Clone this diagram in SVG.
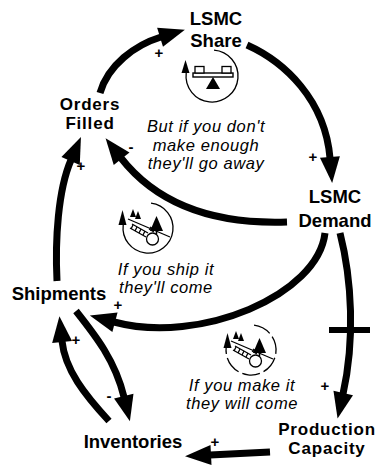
<svg xmlns="http://www.w3.org/2000/svg" width="378" height="465" viewBox="0 0 378 465">
  <style>
    .node{font-family:"Liberation Sans",Arial,Helvetica,sans-serif;font-weight:bold;font-size:18.5px;text-anchor:middle;fill:#000}
    .node.tight{font-size:17px;letter-spacing:0.8px}
    .note{font-family:"Liberation Sans",Arial,Helvetica,sans-serif;font-style:italic;font-size:16.5px;letter-spacing:0.6px;text-anchor:middle;fill:#000}
    .pol{font-family:"Liberation Sans",Arial,Helvetica,sans-serif;font-weight:bold;font-size:15px;text-anchor:middle;fill:#000}
    .link{fill:none;stroke:#000;stroke-width:7;marker-end:url(#head)}
    .thin{fill:none;stroke:#000;stroke-width:1.3}
    .solid{fill:#000;stroke:none}
  </style>
  <defs>
    <!-- large arrowhead; the link path ends at the base of the head -->
    <marker id="head" markerUnits="userSpaceOnUse" viewBox="0 0 26 20" markerWidth="26" markerHeight="20" refX="1" refY="10" orient="auto" overflow="visible">
      <path d="M0,0 L26,10 L0,20 z" fill="#000"/>
    </marker>
    <!-- snowball rolling downhill: reinforcing loop emblem (contents only) -->
    <g id="snowball">
      <polygon class="solid" points="-18,-11 -15,-19 -12,-11"/>
      <polygon class="solid" points="-13,-9 -10,-17 -7,-9"/>
      <polygon class="solid" points="2,3 8.5,-12 15,3"/>
      <line x1="8.5" y1="3" x2="8.5" y2="6" stroke="#000" stroke-width="1.5"/>
      <path class="thin" d="M-20,-9 L22,9"/>
      <path class="thin" d="M-16,-4 L0,5 M-18,0 L-2,9" stroke-width="1.2"/>
      <path class="thin" d="M-15,-3 L-17,1 M-11,-1 L-13,3 M-7,1 L-9,5 M-3,3 L-5,7" stroke-width="1.2"/>
      <path class="thin" d="M1,1 L6,4 M2,-1 L7,2" stroke-width="1"/>
      <circle cx="4.5" cy="11" r="6" fill="#fff" stroke="#000" stroke-width="1.3"/>
    </g>
  </defs>

  <rect width="378" height="465" fill="#fff"/>

  <!-- causal links -->
  <g id="connectors">
    <path class="link" d="M100,93 C108,65 135,45 161,37"/>
    <path class="link" d="M247,45 C285,62 325,100 330,158"/>
    <path class="link" d="M287,222 C200,225 150,195 121,158"/>
    <path class="link" d="M57,281 C55,240 58,190 71,160"/>
    <path class="link" d="M325,233 C318,295 200,345 114,322"/>
    <path class="link" d="M340,233 C352,280 355,340 343,394"/>
    <path class="link" d="M109,421 C85,395 65,370 62,341"/>
    <path class="link" d="M76,311 C95,335 115,360 124,397"/>
    <path class="link" d="M270,452 L210,455"/>
    <!-- delay mark -->
    <line x1="329" y1="330" x2="370" y2="330" stroke="#000" stroke-width="6"/>
    <!-- polarities -->
    <text class="pol" x="159" y="58">+</text>
    <text class="pol" x="313" y="162">+</text>
    <text class="pol" x="131" y="152">-</text>
    <text class="pol" x="81" y="171">+</text>
    <text class="pol" x="118" y="310">+</text>
    <text class="pol" x="76" y="345">+</text>
    <text class="pol" x="109" y="401">-</text>
    <text class="pol" x="325" y="391">+</text>
    <text class="pol" x="215" y="447">+</text>
  </g>

  <!-- variables -->
  <g id="lsmc-share"><text class="node" x="216" y="25">LSMC</text><text class="node" x="216" y="47">Share</text></g>
  <g id="orders-filled"><text class="node tight" x="90" y="109.5">Orders</text><text class="node tight" x="90" y="128.5">Filled</text></g>
  <g id="lsmc-demand"><text class="node" x="335" y="203">LSMC</text><text class="node" x="335" y="227">Demand</text></g>
  <g id="shipments"><text class="node" x="59" y="300">Shipments</text></g>
  <g id="inventories"><text class="node" x="133" y="448">Inventories</text></g>
  <g id="production-capacity"><text class="node tight" x="327" y="434.5">Production</text><text class="node tight" x="327" y="453.5">Capacity</text></g>

  <!-- balancing loop: seesaw emblem -->
  <g id="loop-balance" transform="translate(212,76)">
    <path class="thin" d="M2,-25.9 A26 26 0 1 1 -25.8,-3"/>
    <polygon class="solid" points="-26.5,-16 -30.5,-3 -22.5,-3"/>
    <rect x="-19" y="-3" width="40" height="4" fill="#fff" stroke="#000" stroke-width="1.4"/>
    <rect x="-17" y="-9.5" width="9" height="6.5" fill="#fff" stroke="#000" stroke-width="1.3"/>
    <rect x="10" y="-9.5" width="9" height="6.5" fill="#fff" stroke="#000" stroke-width="1.3"/>
    <polygon class="solid" points="1,1 -6,13 8,13"/>
  </g>
  <g id="loop-balance-label">
    <text class="note" x="206" y="132">But if you don't</text>
    <text class="note" x="206" y="150.5">make enough</text>
    <text class="note" x="206" y="169">they'll go away</text>
  </g>

  <!-- reinforcing loop: shipping -->
  <g id="loop-ship" transform="translate(148,228)">
    <path class="thin" d="M3,-24.8 A25 25 0 1 1 -24.8,-3"/>
    <polygon class="solid" points="-25.5,-18 -29.5,-3 -21.5,-3"/>
    <use href="#snowball"/>
  </g>
  <g id="loop-ship-label">
    <text class="note" x="166" y="274.5">If you ship it</text>
    <text class="note" x="166" y="293">they'll come</text>
  </g>

  <!-- reinforcing loop: capacity -->
  <g id="loop-make" transform="translate(251,350)">
    <path class="thin" stroke-dasharray="18 4" d="M3,-24.8 A25 25 0 1 1 -24.8,-3"/>
    <polygon class="solid" points="-23.5,-17 -27.5,-2 -19.5,-2"/>
    <use href="#snowball"/>
  </g>
  <g id="loop-make-label">
    <text class="note" x="242" y="390.5">If you make it</text>
    <text class="note" x="242" y="409">they will come</text>
  </g>
</svg>
